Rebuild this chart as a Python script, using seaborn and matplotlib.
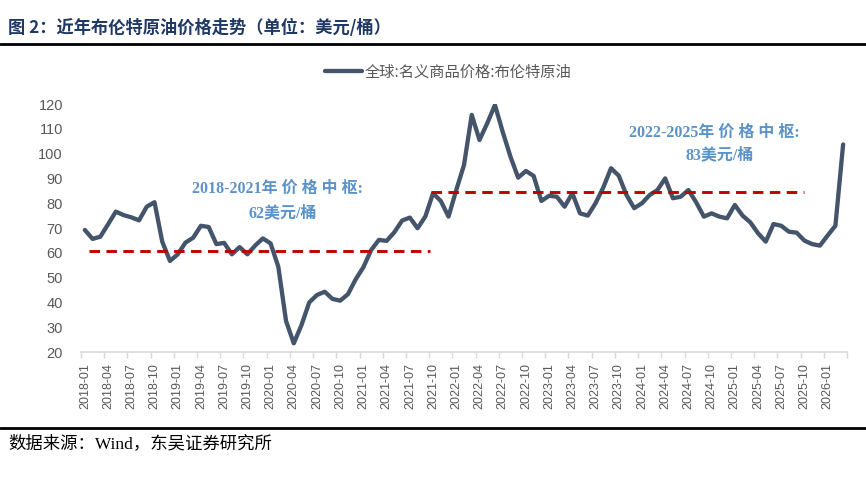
import matplotlib
matplotlib.use('Agg')
import matplotlib.pyplot as plt
import seaborn as sns
import pandas as pd
import numpy as np
from matplotlib.lines import Line2D

# ---------------- data ----------------
months = pd.date_range('2018-01', periods=99, freq='MS').strftime('%Y-%m').tolist()

brent = [
    69.2, 65.6, 66.5, 71.5, 76.6, 75.2, 74.3, 73.1, 78.6, 80.4, 64.5, 56.7,   # 2018
    59.4, 64.1, 66.1, 70.9, 70.4, 63.5, 64.0, 59.4, 62.3, 59.4, 62.9, 65.8,   # 2019
    63.8, 54.4, 32.5, 23.5, 30.9, 40.0, 43.0, 44.3, 41.4, 40.7, 43.3, 49.3,   # 2020
    54.2, 61.1, 65.2, 64.8, 68.3, 73.0, 74.2, 69.9, 74.6, 84.0, 80.9, 74.6,   # 2021
    85.3, 95.4, 115.6, 105.5, 112.2, 119.6, 108.8, 98.8, 90.3, 93.0, 91.0, 80.9,  # 2022
    83.0, 82.6, 78.6, 84.0, 75.9, 75.0, 80.0, 86.3, 94.1, 91.1, 83.3, 78.0,   # 2023
    80.0, 83.3, 85.3, 90.0, 82.0, 82.6, 85.3, 80.4, 74.6, 75.9, 74.6, 73.9,   # 2024
    79.3, 75.0, 72.3, 67.9, 64.5, 71.6, 70.9, 68.5, 68.1, 64.9, 63.5, 62.9,   # 2025
    67.0, 70.9, 103.7,                                                        # 2026
]

series_name = '全球:名义商品价格:布伦特原油'
center_levels = [60.9, 84.4]
center_start = [0.5, 44.7]
center_end = [44.6, 93.0]
ann_line1 = ['2018-2021年 价 格 中 枢:', '2022-2025年 价 格 中 枢:']
ann_line2 = ['62美元/桶', '83美元/桶']
ann_x1 = [24.9, 81.4]
ann_y1 = [85.7, 108.3]
ann_x2 = [25.6, 82.0]
ann_y2 = [76.0, 99.4]

title = '图 2：近年布伦特原油价格走势（单位：美元/桶）'
source = '数据来源：Wind，东吴证券研究所'

# ---------------- style ----------------
sns.set_style('white')
plt.rcParams['font.family'] = ['Noto Sans CJK SC', 'DejaVu Sans']
plt.rcParams['axes.unicode_minus'] = False

W, H = 866, 487
fig = plt.figure(figsize=(W / 100, H / 100), dpi=100)
ax = fig.add_axes([81 / W, 1 - 352 / H, (847 - 81) / W, (352 - 104) / H])

df = pd.DataFrame({'idx': np.arange(len(months)), 'price': brent})
line_color = '#44546A'
sns.lineplot(data=df, x='idx', y='price', ax=ax, color=line_color, lw=3.1,
             legend=False)

for lvl, a, b in zip(center_levels, center_start, center_end):
    ax.plot([a, b], [lvl, lvl], color='#C00000', lw=2.1,
            ls=(0, (3.6, 2.2)), solid_capstyle='butt', dash_capstyle='butt')

ann_color = '#5B93C9'
serif_cjk = ['Liberation Serif', 'Noto Sans CJK SC']
for t1, t2, x1, y1, x2, y2 in zip(ann_line1, ann_line2, ann_x1, ann_y1, ann_x2, ann_y2):
    ax.text(x1, y1, t1, ha='center', va='center', color=ann_color,
            fontsize=11.5, family=serif_cjk, fontweight='bold')
    ax.text(x2, y2, t2, ha='center', va='center', color=ann_color,
            fontsize=11.5, family=serif_cjk, fontweight='bold')

ax.set_xlim(-0.5, len(months) - 0.5)
ax.set_ylim(20, 120)
ax.set_yticks(range(20, 121, 10))
ax.set_xticks(np.arange(0, len(months), 3))
ax.set_xticklabels(months[::3], rotation=90, family='Liberation Sans',
                   fontsize=9, color='#595959')
ax.set_xticks(np.arange(-0.5, len(months), 3), minor=True)
ax.tick_params(axis='x', which='major', length=0, pad=8)
ax.tick_params(axis='x', which='minor', length=4, width=1, color='#D9D9D9',
               direction='out', bottom=True)
ax.tick_params(axis='y', length=0, pad=13, labelsize=10.5, labelcolor='#595959')
for lab in ax.get_yticklabels():
    lab.set_family('Liberation Sans')
ax.set_xlabel('')
ax.set_ylabel('')
for s in ['left', 'right', 'top']:
    ax.spines[s].set_visible(False)
ax.spines['bottom'].set_color('#D9D9D9')
ax.spines['bottom'].set_linewidth(1.2)
ax.grid(False)

# legend
handle = Line2D([0], [0], color=line_color, lw=3.1)
fig.legend([handle], [series_name], loc='center', bbox_to_anchor=(0.518, 1 - 72 / H),
           frameon=False, fontsize=11, handlelength=2.4, handletextpad=0.2,
           labelcolor='#595959')

# title, rules, source
fig.text(8 / W, 1 - 28 / H, title, ha='left', va='center', fontsize=12.4,
         fontweight='bold', color='#1F3864')
fig.add_artist(Line2D([0, 1], [1 - 44 / H, 1 - 44 / H], color='black', lw=2.0,
                      transform=fig.transFigure))
fig.add_artist(Line2D([0, 1], [1 - 428 / H, 1 - 428 / H], color='black', lw=2.0,
                      transform=fig.transFigure))
fig.text(8 / W, 1 - 444 / H, source, ha='left', va='center', fontsize=12.5,
         family=serif_cjk, color='black')

fig.savefig('out.png', dpi=100)
